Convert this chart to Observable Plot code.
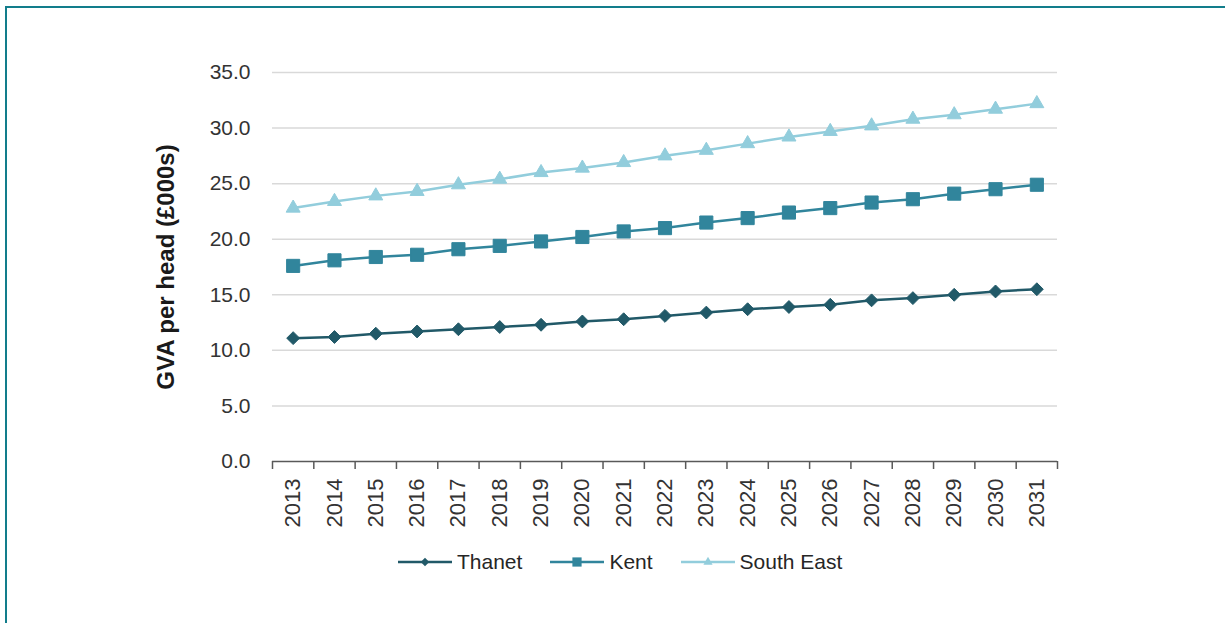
<!DOCTYPE html>
<html><head><meta charset="utf-8">
<script src="https://cdn.jsdelivr.net/npm/d3@7"></script>
<script src="https://cdn.jsdelivr.net/npm/@observablehq/plot@0.6"></script>
<style>
body{margin:0;background:#fff;font-family:"Liberation Sans",Arial,sans-serif;}
#wrap{position:relative;width:1225px;height:623px;overflow:hidden;background:#fff}
#frameTop{position:absolute;left:5px;top:6px;right:0;height:2px;background:#127d8b}
#frameLeft{position:absolute;left:5px;top:6px;bottom:0;width:2px;background:#127d8b}
#chart{position:absolute;left:0;top:0}
#legend{position:absolute;left:398px;top:550px;height:24px;display:flex;align-items:center;font-size:21px;color:#262626;white-space:nowrap}
#legend .item{display:flex;align-items:center;margin-right:28px}
#legend svg{display:block;margin-right:5px}
</style></head>
<body><div id="wrap"><div id="frameTop"></div><div id="frameLeft"></div><div id="chart"></div><div id="legend"></div></div>
<script>
const years = [2013,2014,2015,2016,2017,2018,2019,2020,2021,2022,2023,2024,2025,2026,2027,2028,2029,2030,2031];
const thanet    = [11.1,11.2,11.5,11.7,11.9,12.1,12.3,12.6,12.8,13.1,13.4,13.7,13.9,14.1,14.5,14.7,15.0,15.3,15.5];
const kent      = [17.6,18.1,18.4,18.6,19.1,19.4,19.8,20.2,20.7,21.0,21.5,21.9,22.4,22.8,23.3,23.6,24.1,24.5,24.9];
const southEast = [22.8,23.4,23.9,24.3,24.9,25.4,26.0,26.4,26.9,27.5,28.0,28.6,29.2,29.7,30.2,30.8,31.2,31.7,32.2];
const seriesNames   = ["Thanet","Kent","South East"];
const seriesValues  = [thanet, kent, southEast];
const seriesColors  = ["#215968","#31859C","#92CDDC"];
const seriesSymbols = ["diamond2","square","triangle"];
const seriesRadius  = [5.8, 7.4, 5.2];
const yTicks = [0,5,10,15,20,25,30,35];
const yLabel = "GVA per head (£000s)";

const rows = [];
seriesValues.forEach((vals,i)=>vals.forEach((v,j)=>rows.push({year:years[j], value:v, series:seriesNames[i]})));
const bounds = years.map(y=>y-0.5).concat([years[years.length-1]+0.5]);

const chart = Plot.plot({
  width:1225, height:541, marginTop:72, marginBottom:80, marginLeft:272, marginRight:168,
  style:{fontFamily:'"Liberation Sans", Arial, sans-serif', fontSize:"21px", color:"#333333", background:"transparent"},
  x:{type:"linear", domain:[bounds[0], bounds[bounds.length-1]], axis:null},
  y:{domain:[0,35], axis:null},
  color:{domain:seriesNames, range:seriesColors},
  symbol:{domain:seriesNames, range:seriesSymbols},
  marks:[
    Plot.ruleY(yTicks.filter(d=>d>0), {stroke:"#d9d9d9", strokeWidth:1.5}),
    Plot.axisY(yTicks, {tickSize:0, tickPadding:22, tickFormat:d3.format(".1f"), label:null, fontSize:21, fill:"#333333"}),
    Plot.ruleY([0], {stroke:"#595959", strokeWidth:1.5}),
    Plot.axisX(bounds, {tickSize:8, tickFormat:()=>"", label:null, stroke:"#595959", strokeWidth:1.5}),
    Plot.text(years, {x:d=>d, text:d=>String(d), frameAnchor:"bottom", dy:17, rotate:-90, textAnchor:"end", lineAnchor:"middle", fontSize:22, fill:"#333333"}),
    Plot.text([yLabel], {frameAnchor:"left", dx:-106, rotate:-90, textAnchor:"middle", lineAnchor:"middle", fontWeight:"bold", fontSize:24, fill:"#1a1a1a"}),
    Plot.line(rows, {x:"year", y:"value", z:"series", stroke:"series", strokeWidth:2.5}),
    ...seriesNames.map((s,i)=>Plot.dot(rows.filter(r=>r.series===s), {x:"year", y:"value", symbol:"series", fill:"series", stroke:"series", strokeWidth:1, r:seriesRadius[i]}))
  ]
});
document.getElementById("chart").appendChild(chart);

const d3Sym = {diamond2:d3.symbolDiamond2, square:d3.symbolSquare, triangle:d3.symbolTriangle};
const legendR = [3.8, 5.2, 3.4];
const legend = d3.select("#legend");
seriesNames.forEach((s,i)=>{
  const item = legend.append("div").attr("class","item");
  const svg = item.append("svg").attr("width",54).attr("height",20);
  svg.append("line").attr("x1",0).attr("x2",54).attr("y1",10).attr("y2",10).attr("stroke",seriesColors[i]).attr("stroke-width",2.5);
  svg.append("path").attr("transform","translate(27,10)").attr("d",d3.symbol(d3Sym[seriesSymbols[i]], Math.PI*legendR[i]*legendR[i])()).attr("fill",seriesColors[i]);
  item.append("span").text(s);
});
</script>
</body></html>
